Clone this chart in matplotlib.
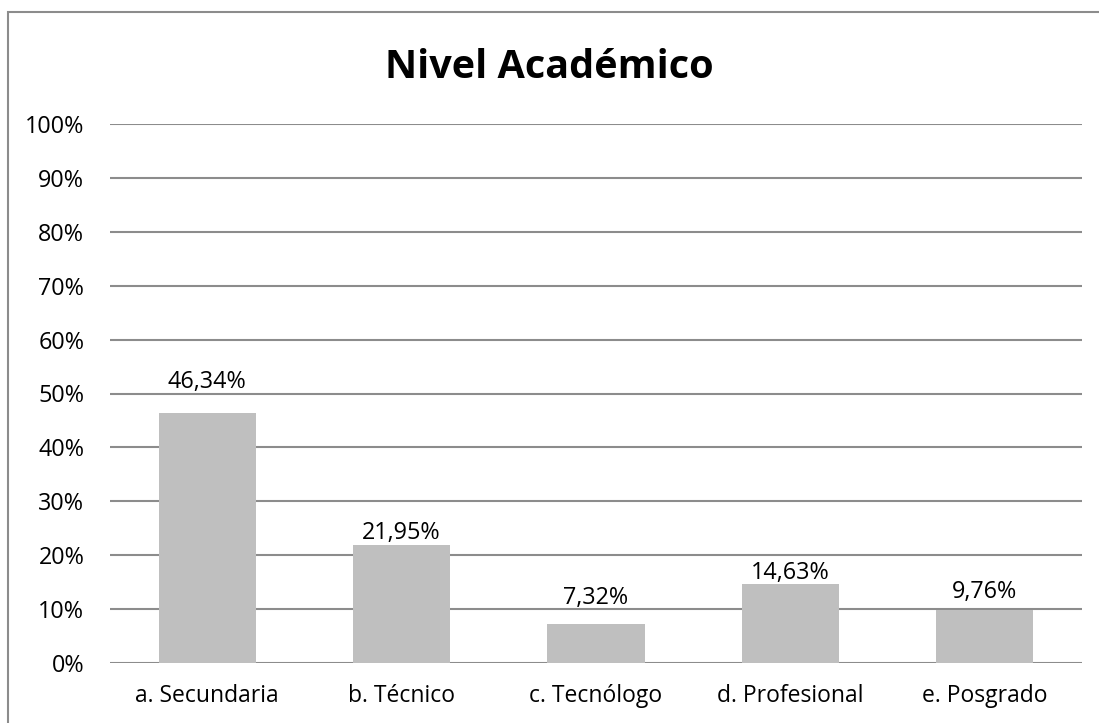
import numpy as np
import matplotlib.pyplot as plt
from matplotlib.patches import Rectangle

categories = ["a. Secundaria", "b. Técnico", "c. Tecnólogo", "d. Profesional", "e. Posgrado"]
values = [46.34, 21.95, 7.32, 14.63, 9.76]
yticks = [0, 10, 20, 30, 40, 50, 60, 70, 80, 90, 100]

# label gap above each bar (points); the source nudged them off the gridlines
label_gap = [18, 4.3, 14.4, 3.6, 8.6]

plt.rcParams["font.family"] = ["Open Sans", "DejaVu Sans"]

fig = plt.figure(figsize=(10.99, 7.23), dpi=100)
fig.patches.append(Rectangle((8 / 1099, -0.1), 2, 1.1 - 12 / 723, transform=fig.transFigure,
                             fill=False, edgecolor="#8c8c8c", linewidth=1.5))
ax = fig.add_axes([110 / 1099, 1 - 663 / 723, (1082 - 110) / 1099, (663 - 124) / 723])

x = np.arange(len(categories))
ax.bar(x, values, width=0.5, color="#bfbfbf", zorder=2)
for xi, v, g in zip(x, values, label_gap):
    ax.annotate(f"{v:.2f}%".replace(".", ","), (xi, v), xytext=(0, g),
                textcoords="offset points", ha="center", va="baseline",
                fontsize=16.8, color="#000000")

ax.set_xlim(-0.5, len(categories) - 0.5)
ax.set_ylim(0, 100)
ax.set_yticks(yticks)
ax.set_yticklabels([f"{t}%" for t in yticks], fontsize=16.8)
ax.set_xticks(x)
ax.set_xticklabels(categories, fontsize=16.5)
ax.yaxis.grid(True, color="#8c8c8c", linewidth=1.5, zorder=0)
ax.tick_params(axis="both", length=0)
ax.tick_params(axis="x", pad=15)
ax.tick_params(axis="y", pad=18.5)
for s in ax.spines.values():
    s.set_visible(False)

fig.text(0.5, 1 - 68 / 723, "Nivel Académico", ha="center", va="center",
         fontsize=28.5, fontweight="bold")

fig.savefig("out.png", dpi=100)
